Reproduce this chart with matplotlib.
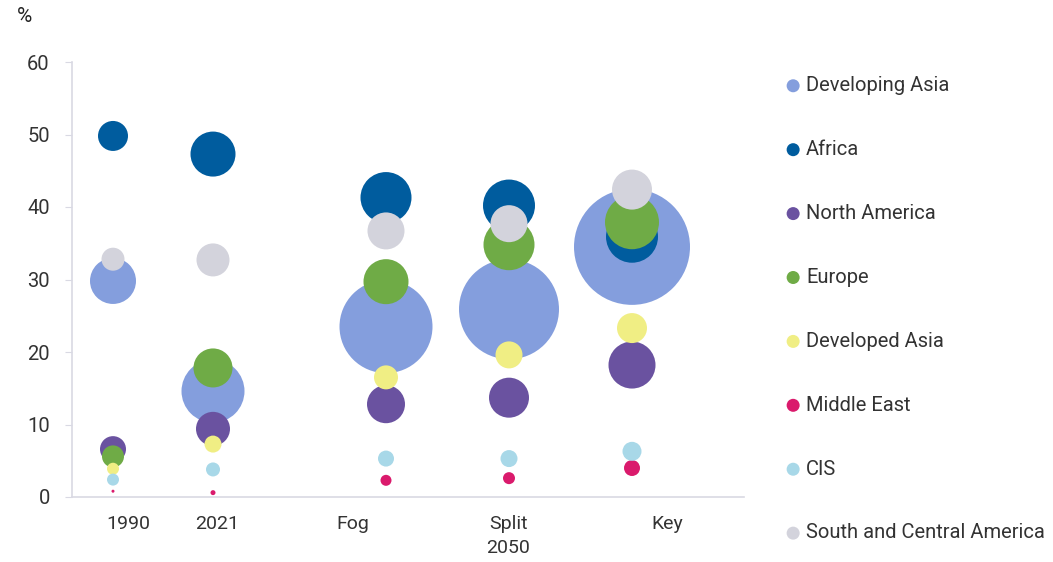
import matplotlib
matplotlib.use('Agg')
import matplotlib.pyplot as plt
import numpy as np

plt.rcParams['font.family'] = ['Roboto', 'DejaVu Sans']

# ── data ────────────────────────────────────────────────────────────────
scenarios = ['1990', '2021', 'Fog', 'Split', 'Key']
scenario_x = [0.41, 1.41, 3.14, 4.37, 5.60]          # bubble column positions
label_x = [0.56, 1.45, 2.81, 4.36, 5.95]             # where the tick labels sit
tick_text = ['1990', '2021', 'Fog', 'Split\n2050', 'Key']

regions = ['Developing Asia', 'Africa', 'North America', 'Europe',
           'Developed Asia', 'Middle East', 'CIS', 'South and Central America']

# share (%) per region, columns = scenarios
share = {
    'Developing Asia':          [29.8, 14.6, 23.5, 25.9, 34.5],
    'Africa':                   [49.8, 47.3, 41.3, 40.2, 35.9],
    'North America':            [6.6, 9.4, 12.8, 13.7, 18.2],
    'Europe':                   [5.6, 17.8, 29.7, 34.8, 37.9],
    'Developed Asia':           [3.9, 7.3, 16.5, 19.6, 23.3],
    'Middle East':              [0.8, 0.6, 2.3, 2.6, 4.0],
    'CIS':                      [2.4, 3.8, 5.3, 5.3, 6.3],
    'South and Central America': [32.8, 32.7, 36.7, 37.7, 42.4],
}
# bubble diameter (px) per region, columns = scenarios
bubble = {
    'Developing Asia':          [46, 63, 93, 100, 116],
    'Africa':                   [30, 45, 51, 52, 52],
    'North America':            [26, 34, 38, 40, 47],
    'Europe':                   [22, 39, 45, 51, 54],
    'Developed Asia':           [12, 17, 24, 27, 30],
    'Middle East':              [3, 5, 11, 12, 16],
    'CIS':                      [12, 14, 16, 17, 19],
    'South and Central America': [23, 33, 37, 37, 40],
}

colors = ['#849edd', '#005c9e', '#6a52a0', '#6fab46',
          '#f0ee84', '#da1a6c', '#a8d8e8', '#d3d3dc']

W, H, DPI = 1053, 562, 100
fig = plt.figure(figsize=(W / DPI, H / DPI), dpi=DPI)
ax = fig.add_axes([72 / W, 1 - 497 / H, (744 - 72) / W, (497 - 62) / H])

px2pt = 72 / DPI
for reg, col in zip(regions, colors):
    d = np.array(bubble[reg]) * px2pt
    ax.scatter(scenario_x, share[reg], s=d ** 2, color=col,
               edgecolors='none', label=reg, zorder=2)

ax.set_xlim(0, 6.72)
ax.set_ylim(0, 60)
ax.set_yticks(np.arange(0, 61, 10))
ax.set_xticks([])

axis_col = '#d9d9e3'
for s in ['top', 'right']:
    ax.spines[s].set_visible(False)
for s in ['left', 'bottom']:
    ax.spines[s].set_color(axis_col)
    ax.spines[s].set_linewidth(1.2)
ax.tick_params(axis='y', length=5, color=axis_col, labelsize=14.5,
               labelcolor='#333333', pad=11)

for lx, txt in zip(label_x, tick_text):
    ax.text(lx, -2.5, txt, ha='center', va='top', fontsize=14,
            color='#333333', linespacing=1.45)

fig.text(17 / W, 1 - 17 / H, '%', fontsize=15, color='#222222',
         va='center', ha='left')

leg = fig.legend(loc='upper left', bbox_to_anchor=(773 / W, 1 - 68 / H),
                 frameon=False, fontsize=14.5, labelspacing=2.23,
                 handletextpad=0.05, markerscale=1, borderaxespad=0,
                 handlelength=1.2)
for h in leg.legend_handles:
    h.set_sizes([(13 * px2pt) ** 2])
for t in leg.get_texts():
    t.set_color('#333333')

fig.savefig('out.png', dpi=DPI, facecolor='white')
